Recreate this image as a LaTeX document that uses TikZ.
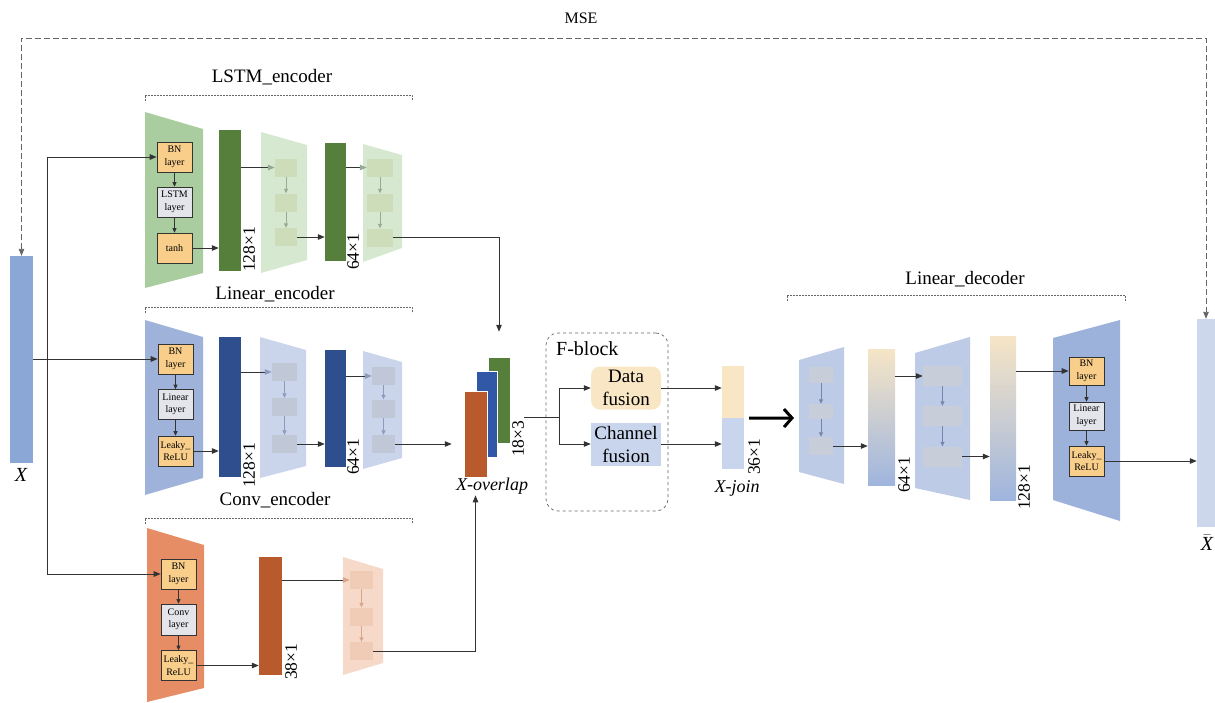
\documentclass[tikz,border=0pt]{standalone}
\usepackage{fontspec}
\setmainfont{Liberation Serif}
\usepackage{xcolor}
\definecolor{cLine}{HTML}{333333}
\definecolor{cDash}{HTML}{666666}
\definecolor{cLstm}{HTML}{AACD9F}
\definecolor{cLstmBar}{HTML}{557F3A}
\definecolor{cLstmFade}{HTML}{D7E8D0}
\definecolor{cLstmFadeBox}{HTML}{CEDDB9}
\definecolor{cLstmTip}{HTML}{94AC93}
\definecolor{cLin}{HTML}{9FB3DA}
\definecolor{cLinBar}{HTML}{2F4E8E}
\definecolor{cLinBlue}{HTML}{3158A6}
\definecolor{cLinFade}{HTML}{CAD4EA}
\definecolor{cLinFadeBox}{HTML}{C0C8D8}
\definecolor{cLinTip}{HTML}{8C9BBB}
\definecolor{cConv}{HTML}{E68D66}
\definecolor{cConvBar}{HTML}{B95A2D}
\definecolor{cConvFade}{HTML}{F6D9C8}
\definecolor{cConvFadeBox}{HTML}{F0CCB6}
\definecolor{cConvTip}{HTML}{D9A58C}
\definecolor{cBN}{HTML}{F8CE8A}
\definecolor{cMid}{HTML}{E4E5EA}
\definecolor{cData}{HTML}{F8E6C4}
\definecolor{cChan}{HTML}{C8D5EC}
\definecolor{cDec}{HTML}{9CB2DA}
\definecolor{cDecFade}{HTML}{BDCBE6}
\definecolor{cDecFadeBox}{HTML}{C7CDD9}
\definecolor{cDecTip}{HTML}{7486AB}
\definecolor{cGradTop}{HTML}{F6E5C6}
\definecolor{cGradBot}{HTML}{9FB5DE}
\definecolor{cXin}{HTML}{8AA7D5}
\definecolor{cXout}{HTML}{CCD7EB}
\usepackage{tikz}
\usetikzlibrary{positioning,arrows.meta,calc}
\tikzset{
  layer-box/.style={draw=cLine,line width=0.6pt,minimum width=35,minimum height=30,
    inner sep=0pt,align=center,font=\fontsize{10}{12.5}\selectfont},
  layer-bn/.style={layer-box,fill=cBN},
  layer-mid/.style={layer-box,fill=cMid},
  fade-box/.style={fill=#1,inner sep=0pt,minimum width=23,minimum height=18},
  bar/.style={inner sep=0pt,minimum width=22},
  grad-bar/.style={bar,top color=cGradTop,bottom color=cGradBot},
  ovl-bar/.style={bar,draw=white,line width=0.5pt,minimum height=86},
  title-label/.style={font=\fontsize{19}{21}\selectfont,inner sep=1pt},
  var-label/.style={font=\fontsize{18}{20}\selectfont\itshape,inner sep=1pt},
  dim-label/.style={rotate=90,anchor=north west,inner sep=0pt,font=\fontsize{17.5}{19}\selectfont},
  fusion-box/.style={minimum width=70,minimum height=43,inner sep=0pt,align=center,
    font=\fontsize{19}{23}\selectfont},
  fblock/.style={draw=cDash,dashed,rounded corners=12pt,line width=0.7pt,inner sep=0pt},
  bracket/.style={draw=cDash,line width=0.7pt,dash pattern=on 2pt off 1pt},
  line/.style={line width=1pt,draw=cLine},
  arrow/.style={-{Triangle[length=7pt,width=5.5pt]},line width=1pt,draw=cLine},
  arrow-in/.style={arrow,-{Triangle[length=7pt,width=5.5pt,color=#1]}},
  arrow-small/.style={-{Triangle[length=4.5pt,width=4pt]},line width=0.8pt,draw=cLine},
  arrow-fade/.style={-{Triangle[length=4.5pt,width=4pt]},line width=0.7pt,draw=#1},
  arrow-thick/.style={-{Straight Barb[length=8pt,width=18pt]},line width=3pt,draw=black},
  arrow-mse/.style={{Triangle[length=7pt,width=5.5pt]}-{Triangle[length=7pt,width=5.5pt]},
    line width=0.9pt,draw=cDash,dash pattern=on 6pt off 3pt},
}

\begin{document}
\begin{tikzpicture}[x=1pt,y=-1pt]
  \useasboundingbox (0,0) rectangle (1215,702);

  % input and reconstructed output
  \node[bar,fill=cXin,minimum width=23,minimum height=207] (xIn) at (21.5,359.5) {};
  \node[var-label,font=\fontsize{20}{22}\selectfont\itshape] (xInLab) at (21,475) {X};
  \node[bar,fill=cXout,minimum width=18,minimum height=208] (xOut) at (1206,423) {};
  \node[var-label,font=\fontsize{20}{22}\selectfont\itshape] (xOutLab) at (1207,543) {$\bar{\mbox{X}}$};

  % reconstruction loss
  \coordinate (mseTop) at (600,38);
  \draw[arrow-mse] (xIn.north) |- (mseTop) -| (xOut.north);
  \node[title-label,font=\fontsize{16}{18}\selectfont] (mse) at (581,18) {MSE};

  % ---- LSTM encoder ----
  \node[title-label] (lstmTitle) at (272,77) {LSTM\_encoder};
  \draw[bracket] (145,101) |- (412,95) -- (412,101);
  \fill[cLstm] (145,112) -- (203,129) -- (203,273) -- (145,288) -- cycle;
  \node[layer-bn] (lstmBN) at (174.5,157) {BN\\layer};
  \node[layer-mid] (lstmCell) at (174.5,202) {LSTM\\layer};
  \node[layer-bn] (lstmAct) at (174.5,248) {tanh};
  \draw[arrow-small] (lstmBN) -- (lstmCell);
  \draw[arrow-small] (lstmCell) -- (lstmAct);
  \node[bar,fill=cLstmBar,minimum height=141] (lstmBarA) at (230,200.5) {};
  \draw[arrow] (lstmAct) -- (lstmAct -| lstmBarA.west);
  \node[dim-label] at (243,272) {128×1};
  \fill[cLstmFade] (261,132) -- (307,145) -- (307,260) -- (261,273) -- cycle;
  \node[fade-box=cLstmFadeBox,minimum width=22] (lstmA1) at (286,167.5) {};
  \node[fade-box=cLstmFadeBox,minimum width=22] (lstmA2) at (286,202.5) {};
  \node[fade-box=cLstmFadeBox,minimum width=22] (lstmA3) at (286,237) {};
  \draw[arrow-fade=cLstmTip] (lstmA1) -- (lstmA2);
  \draw[arrow-fade=cLstmTip] (lstmA2) -- (lstmA3);
  \draw[arrow-in=cLstmTip] (lstmBarA.east |- lstmA1) -- (lstmA1);
  \node[bar,fill=cLstmBar,minimum width=21,minimum height=118] (lstmBarB) at (335.5,202) {};
  \draw[arrow] (lstmA3) -- (lstmA3 -| lstmBarB.west);
  \node[dim-label] at (347,270) {64×1};
  \fill[cLstmFade] (363,144) -- (402,155) -- (402,248) -- (363,262) -- cycle;
  \node[fade-box=cLstmFadeBox,minimum width=26] (lstmB1) at (380,167.5) {};
  \node[fade-box=cLstmFadeBox,minimum width=26] (lstmB2) at (380,202.5) {};
  \node[fade-box=cLstmFadeBox,minimum width=26] (lstmB3) at (380,237.5) {};
  \draw[arrow-fade=cLstmTip] (lstmB1) -- (lstmB2);
  \draw[arrow-fade=cLstmTip] (lstmB2) -- (lstmB3);
  \draw[arrow-in=cLstmTip] (lstmBarB.east |- lstmB1) -- (lstmB1);

  % ---- Linear encoder ----
  \node[title-label] (linTitle) at (275,294) {Linear\_encoder};
  \draw[bracket] (145,313) |- (412,307) -- (412,313);
  \fill[cLin] (145,320) -- (203,337) -- (203,478) -- (145,495) -- cycle;
  \node[layer-bn] (linBN) at (175.5,359) {BN\\layer};
  \node[layer-mid] (linLayer) at (175.5,404.5) {Linear\\layer};
  \node[layer-bn] (linAct) at (175.5,451) {Leaky\_\\ReLU};
  \draw[arrow-small] (linBN) -- (linLayer);
  \draw[arrow-small] (linLayer) -- (linAct);
  \node[bar,fill=cLinBar,minimum height=140] (linBarA) at (230,407) {};
  \draw[arrow] (linAct) -- (linAct -| linBarA.west);
  \node[dim-label] at (243,488) {128×1};
  \fill[cLinFade] (260,337) -- (306,350) -- (306,466) -- (260,478) -- cycle;
  \node[fade-box=cLinFadeBox,minimum width=25] (linA1) at (284.5,372) {};
  \node[fade-box=cLinFadeBox,minimum width=25] (linA2) at (284.5,407) {};
  \node[fade-box=cLinFadeBox,minimum width=25] (linA3) at (284.5,444) {};
  \draw[arrow-fade=cLinTip] (linA1) -- (linA2);
  \draw[arrow-fade=cLinTip] (linA2) -- (linA3);
  \draw[arrow-in=cLinTip] (linBarA.east |- linA1) -- (linA1);
  \node[bar,fill=cLinBar,minimum width=21,minimum height=117] (linBarB) at (335.5,408.5) {};
  \draw[arrow] (linA3) -- (linA3 -| linBarB.west);
  \node[dim-label] at (347,475) {64×1};
  \fill[cLinFade] (363,351) -- (402,362) -- (402,458) -- (363,469) -- cycle;
  \node[fade-box=cLinFadeBox] (linB1) at (383.5,376) {};
  \node[fade-box=cLinFadeBox] (linB2) at (383.5,408.5) {};
  \node[fade-box=cLinFadeBox] (linB3) at (383.5,444) {};
  \draw[arrow-fade=cLinTip] (linB1) -- (linB2);
  \draw[arrow-fade=cLinTip] (linB2) -- (linB3);
  \draw[arrow-in=cLinTip] (linBarB.east |- linB1) -- (linB1);

  % ---- Conv encoder ----
  \node[title-label] (convTitle) at (275,500) {Conv\_encoder};
  \draw[bracket] (145,524) |- (412,518) -- (412,524);
  \fill[cConv] (147,528) -- (204,545) -- (204,688) -- (147,702) -- cycle;
  \node[layer-bn] (convBN) at (178.5,574) {BN\\layer};
  \node[layer-mid,minimum height=31] (convLayer) at (178.5,619.5) {Conv\\layer};
  \node[layer-bn] (convAct) at (178.5,665.5) {Leaky\_\\ReLU};
  \draw[arrow-small] (convBN) -- (convLayer);
  \draw[arrow-small] (convLayer) -- (convAct);
  \node[bar,fill=cConvBar,minimum width=23,minimum height=118] (convBar) at (270.5,616) {};
  \draw[arrow] (convAct) -- (convAct -| convBar.west);
  \node[dim-label] at (285,680) {38×1};
  \fill[cConvFade] (343,557) -- (383,569) -- (383,663) -- (343,675) -- cycle;
  \node[fade-box=cConvFadeBox] (convA1) at (361.5,580) {};
  \node[fade-box=cConvFadeBox] (convA2) at (361.5,616.5) {};
  \node[fade-box=cConvFadeBox] (convA3) at (361.5,651) {};
  \draw[arrow-fade=cConvTip] (convA1) -- (convA2);
  \draw[arrow-fade=cConvTip] (convA2) -- (convA3);
  \draw[arrow-in=cConvTip] (convBar.east |- convA1) -- (convA1);

  % input fan-out
  \draw[arrow] (xIn.east |- linBN) -- (linBN);
  \path (xIn.east |- linBN) ++(14,0) coordinate (split);
  \draw[arrow] (split) |- (lstmBN);
  \draw[arrow] (split) |- (convBN);

  % ---- stacked features ----
  \node[ovl-bar,fill=cLstmBar] (ovlGreen) at (499,400) {};
  \node[ovl-bar,fill=cLinBlue,minimum width=21] (ovlBlue) at (486.5,414) {};
  \node[ovl-bar,fill=cConvBar,minimum width=23] (ovlOrange) at (475.5,434) {};
  \node[var-label] (ovlLab) at (492,486) {X-overlap};
  \node[dim-label] (ovlDim) at (512,457) {18×3};
  \draw[arrow,shorten >=25pt] (lstmB3) -| (ovlGreen.north);
  \draw[arrow,shorten >=12pt] (linB3) -- (linB3 -| ovlOrange.west);
  \draw[arrow] (convA3) -| (ovlOrange |- ovlLab.south);

  % ---- F-block ----
  \node[fblock,minimum width=122,minimum height=178] (fblock) at (607,422) {};
  \node[title-label,font=\fontsize{20}{22}\selectfont,anchor=west] (fblockLab) at (555,349) {F-block};
  \node[fusion-box,fill=cData,rounded corners=9pt] (dataFuse) at (626,388) {Data\\fusion};
  \node[fusion-box,fill=cChan] (chanFuse) at (626,444) {Channel\\fusion};
  \coordinate (fork) at (559,417);
  \draw[line] (ovlDim.south |- fork) -- (fork);
  \draw[arrow] (fork) |- (dataFuse);
  \draw[arrow] (fork) |- (chanFuse);

  % ---- joined vector ----
  \node[bar,fill=cData,minimum height=52] (joinTop) at (733,392) {};
  \node[bar,fill=cChan,minimum height=51] (joinBot) at (733,443.5) {};
  \draw[arrow] (dataFuse) -- (dataFuse -| joinTop.west);
  \draw[arrow] (chanFuse) -- (chanFuse -| joinBot.west);
  \node[dim-label] at (748,475) {36×1};
  \node[var-label] (joinLab) at (737,488) {X-join};
  \coordinate (decIn) at (794,418);
  \draw[arrow-thick] ([xshift=5pt]joinTop.south east) -- (decIn);

  % ---- Linear decoder ----
  \node[title-label] (decTitle) at (965,279) {Linear\_decoder};
  \draw[bracket] (787,301) |- (1125,295) -- (1125,301);
  \fill[cDecFade] (799,360) -- (844,347) -- (844,484) -- (799,472) -- cycle;
  \node[fade-box=cDecFadeBox,minimum width=24,minimum height=16] (decA1) at (821,375) {};
  \node[fade-box=cDecFadeBox,minimum width=24,minimum height=15] (decA2) at (821,411.5) {};
  \node[fade-box=cDecFadeBox,minimum width=24] (decA3) at (821,446) {};
  \draw[arrow-fade=cDecTip] (decA1) -- (decA2);
  \draw[arrow-fade=cDecTip] (decA2) -- (decA3);
  \node[grad-bar,minimum width=27,minimum height=136] (decBarA) at (881.5,417) {};
  \draw[arrow] (decA3) -- (decA3 -| decBarA.west);
  \node[dim-label] at (898,493) {64×1};
  \fill[cDecFade] (915,353) -- (970,337) -- (970,500) -- (915,488) -- cycle;
  \node[fade-box=cDecFadeBox,minimum width=39,minimum height=20] (decB1) at (942.5,376) {};
  \node[fade-box=cDecFadeBox,minimum width=39,minimum height=20] (decB2) at (942.5,416) {};
  \node[fade-box=cDecFadeBox,minimum width=39,minimum height=20] (decB3) at (942.5,456.5) {};
  \draw[arrow-fade=cDecTip] (decB1) -- (decB2);
  \draw[arrow-fade=cDecTip] (decB2) -- (decB3);
  \draw[arrow] (decBarA.east |- decB1) -- (decB1);
  \node[grad-bar,minimum width=26,minimum height=164] (decBarB) at (1003,418) {};
  \draw[arrow] (decB3) -- (decB3 -| decBarB.west);
  \node[dim-label] at (1018,510) {128×1};
  \fill[cDec] (1053,338) -- (1120,320) -- (1120,521) -- (1053,500) -- cycle;
  \node[layer-bn,minimum height=28] (decBN) at (1086.5,371) {BN\\layer};
  \node[layer-mid,minimum height=28] (decLayer) at (1086.5,416) {Linear\\layer};
  \node[layer-bn] (decAct) at (1086.5,461) {Leaky\_\\ReLU};
  \draw[arrow-small] (decBN) -- (decLayer);
  \draw[arrow-small] (decLayer) -- (decAct);
  \draw[arrow] (decBarB.east |- decBN) -- (decBN);
  \draw[arrow] (decAct) -- (decAct -| xOut.west);
\end{tikzpicture}
\end{document}
